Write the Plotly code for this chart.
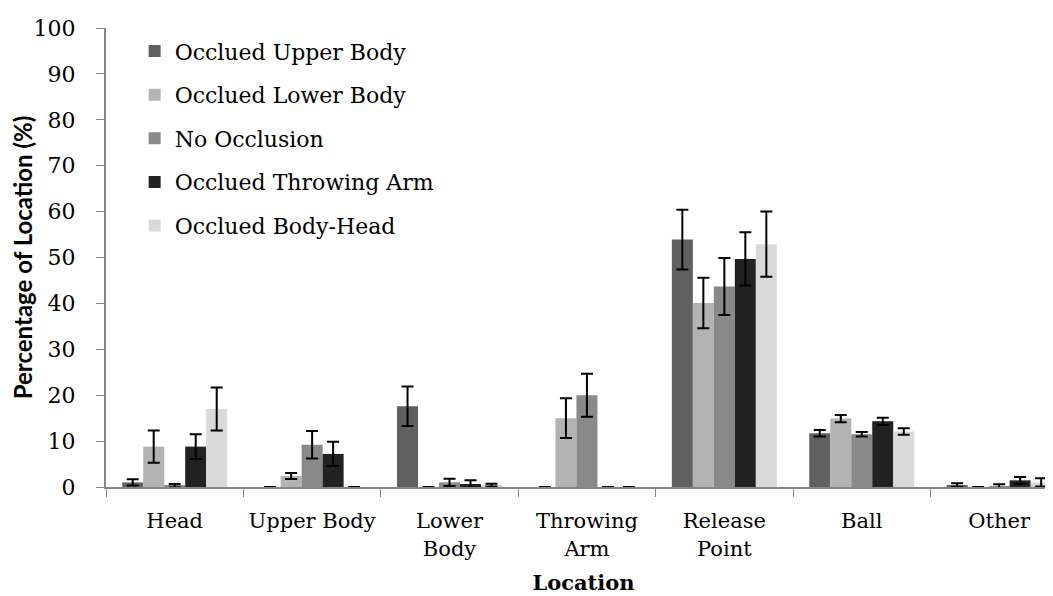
import plotly.graph_objects as go

categories = ["Head", "Upper Body", "Lower<br>Body", "Throwing<br>Arm", "Release<br>Point", "Ball", "Other"]

series_names = ["Occlued Upper Body", "Occlued Lower Body", "No Occlusion",
                "Occlued Throwing Arm", "Occlued Body-Head"]

occ_upper = [1.0, 0.0, 17.6, 0.0, 53.9, 11.7, 0.4]
occ_lower = [8.8, 2.4, 0.0, 15.0, 40.1, 14.9, 0.0]
no_occ = [0.3, 9.2, 1.0, 20.0, 43.7, 11.5, 0.2]
occ_arm = [8.8, 7.2, 0.65, 0.0, 49.7, 14.3, 1.45]
occ_bodyhead = [17.0, 0.0, 0.4, 0.0, 52.9, 12.1, 1.0]

err_upper = [0.7, None, 4.3, None, 6.5, 0.7, 0.4]
err_lower = [3.5, 0.65, None, 4.35, 5.5, 0.8, None]
err_no = [0.35, 3.0, 0.8, 4.7, 6.2, 0.5, 0.4]
err_arm = [2.7, 2.65, 0.8, None, 5.8, 0.8, 0.75]
err_bodyhead = [4.7, None, 0.3, None, 7.1, 0.7, 0.9]

colors = ["#606060", "#b3b3b3", "#898989", "#222222", "#d9d9d9"]

values = [occ_upper, occ_lower, no_occ, occ_arm, occ_bodyhead]
errors = [err_upper, err_lower, err_no, err_arm, err_bodyhead]

y_ticks = list(range(0, 101, 10))

fig = go.Figure()
for i, (name, vals, errs, col) in enumerate(zip(series_names, values, errors, colors)):
    fig.add_trace(go.Bar(
        x=categories, y=vals, name=name,
        marker=dict(color=col, line=dict(width=0)),
        error_y=dict(type="data", array=errs, visible=True,
                     color="#000000", thickness=2, width=6),
        legendgroup=name,
    ))

serif = "DejaVu Serif"
fig.update_layout(
    width=1053, height=596,
    margin=dict(l=98, r=0, t=20, b=117, autoexpand=False),
    plot_bgcolor="white", paper_bgcolor="white",
    barmode="group", bargap=0.236, bargroupgap=0,
    font=dict(family=serif, size=22, color="#000000"),
    showlegend=True,
    legend=dict(x=0.03, y=0.995, xanchor="left", yanchor="top",
                font=dict(family=serif, size=22, color="#000000"),
                tracegroupgap=12, bgcolor="rgba(0,0,0,0)",
                itemwidth=30),
    xaxis=dict(
        type="category", range=[-0.5, 6.45], automargin=False,
        showline=True, linecolor="#868686", linewidth=2,
        ticks="outside", tickson="boundaries", ticklen=8, tickcolor="#868686", tickwidth=1,
        showgrid=False, zeroline=False, tickangle=0,
        tickfont=dict(family=serif, size=21, color="#000000"),
        ticklabelstandoff=14,
        title=dict(text="<b>Location</b>", font=dict(family=serif, size=21, color="#000000"), standoff=16),
    ),
    yaxis=dict(
        range=[0, 100], tickvals=y_ticks, automargin=False,
        showline=True, linecolor="#868686", linewidth=2,
        ticks="outside", ticklen=8, tickcolor="#868686", tickwidth=1,
        showgrid=False, zeroline=False,
        tickfont=dict(family=serif, size=22, color="#000000"),
        ticklabelstandoff=16,
        title=dict(text="<b>Percentage of Location (%)</b>",
                   font=dict(family="Lato", size=24, color="#000000"), standoff=3),
    ),
)

fig.write_html("out.html")
